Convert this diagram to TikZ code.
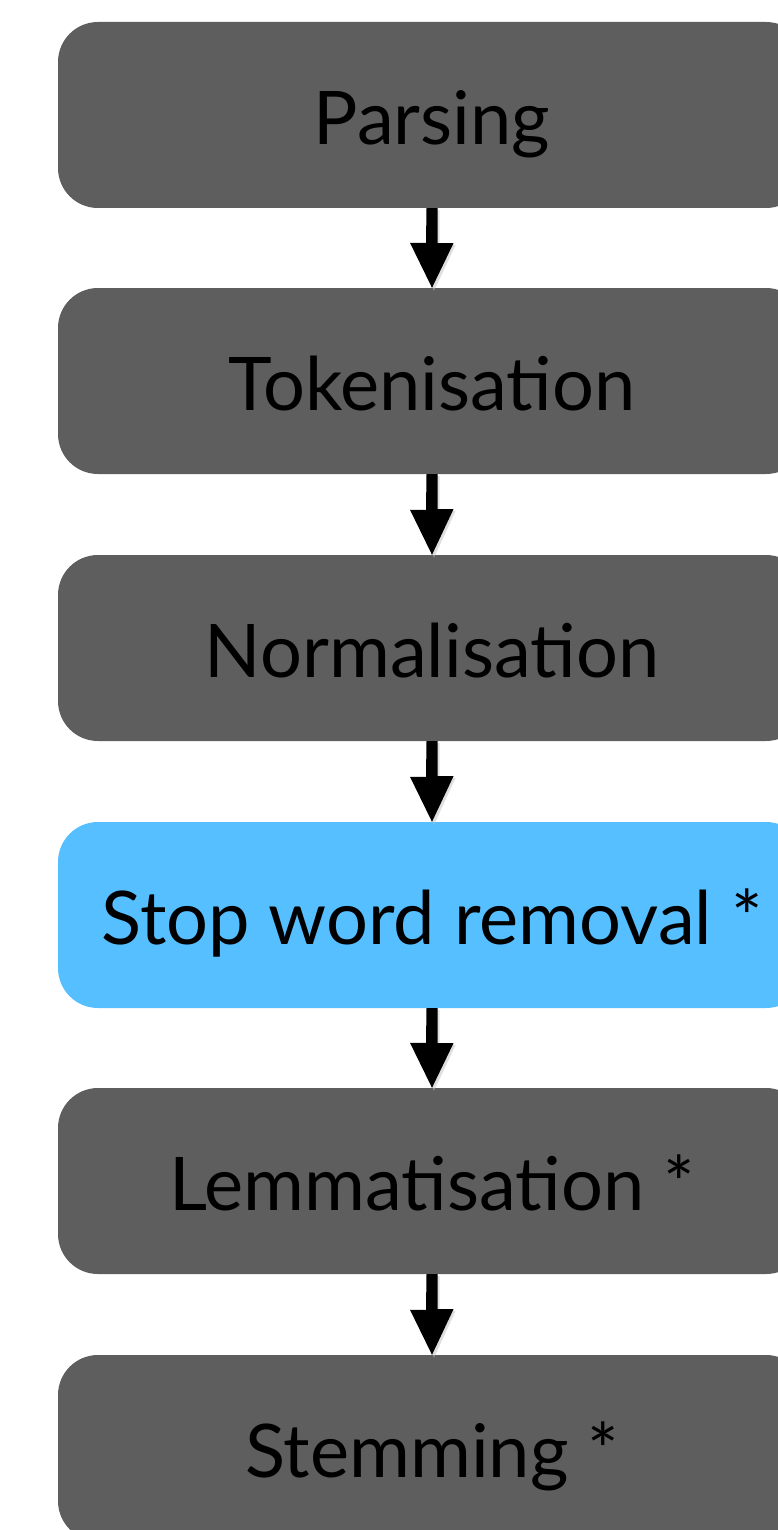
\documentclass[tikz,border=0pt]{standalone}
\usepackage{fontspec}
\setmainfont{Lato}
\definecolor{boxgray}{HTML}{5E5E5E}
\definecolor{boxblue}{HTML}{56BFFF}
\begin{document}
\begin{tikzpicture}[x=1pt,y=-1pt,
  stagebox/.style={fill=#1,rounded corners=40pt,minimum width=748pt,minimum height=186pt,inner sep=0pt,text height=64pt,text depth=5pt,font=\fontsize{74}{80}\selectfont,text=black},
  stagebox/.default=boxgray,
  downarrow/.style={fill=black,draw=none}]
\useasboundingbox (0,0) rectangle (778,1530);
\clip (0,0) rectangle (778,1530);
\node[stagebox] (p) at (432,115) {Parsing};
\node[stagebox] (t) at (432,381) {Tokenisation};
\node[stagebox] (n) at (432,648) {Normalisation};
\node[stagebox=boxblue] (s) at (432,915) {Stop word removal *};
\node[stagebox] (l) at (432,1181) {Lemmatisation *};
\node[stagebox] (m) at (432,1448) {Stemming *};
\foreach \a/\b in {p/t,t/n,n/s,s/l,l/m}{
  \fill[black!25,opacity=0.5] ([xshift=-3.5pt,yshift=-2pt]\a.south) -- ++(11,0) -- ++(0,35) -- ++(16,0) -- ([xshift=2pt,yshift=-3pt]\b.north) -- ++(-20,-45) -- ++(16,0) -- cycle;
  \path[downarrow] ([xshift=-5.5pt]\a.south) -- ++(11,0) -- ++(0,35) -- ++(16,0) -- (\b.north) -- ++(-22,-45) -- ++(16,0) -- cycle;
}
\end{tikzpicture}
\end{document}
